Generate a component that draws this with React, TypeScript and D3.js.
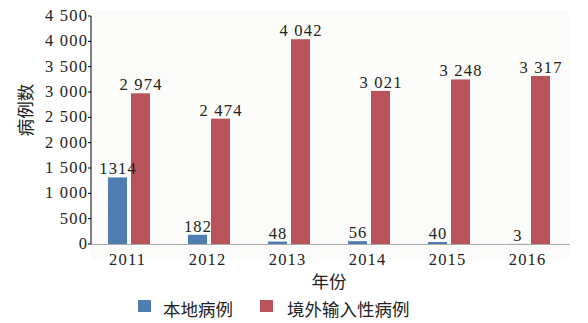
import React from "react";
import * as d3 from "d3";

const years = ["2011", "2012", "2013", "2014", "2015", "2016"];
const localCases = [1314, 182, 48, 56, 40, 3];
const importedCases = [2974, 2474, 4042, 3021, 3248, 3317];
const localLabels = ["1314", "182", "48", "56", "40", "3"];
const importedLabels = ["2 974", "2 474", "4 042", "3 021", "3 248", "3 317"];
const yTicks = [0, 500, 1000, 1500, 2000, 2500, 3000, 3500, 4000, 4500];
const yTickLabels = ["0", "500", "1 000", "1 500", "2 000", "2 500", "3 000", "3 500", "4 000", "4 500"];
const seriesNames = ["本地病例", "境外输入性病例"];
const colors = ["#4f7db1", "#b8535b"];

const W = 588;
const H = 323;
const serif = "'Liberation Serif', 'DejaVu Serif', serif";
const cjk = "'Noto Sans CJK SC', sans-serif";
const LS = 1.2;

export default function App() {
  const x = d3.scaleBand<string>().domain(years).range([89, 569]).padding(0);
  const y = d3.scaleLinear().domain([0, 4500]).range([244, 16]);
  const barW = 19;
  const gap = 2;

  const num = { fontFamily: serif, fontSize: 16.5, fill: "#222", letterSpacing: LS } as const;

  return (
    <svg width={W} height={H} style={{ position: "absolute", left: 0, top: 0, background: "#fff" }}>
      <rect x={91} y={10} width={478} height={250} fill="#fbfbf9" />
      {/* y axis */}
      <line x1={91} x2={91} y1={y(4500)} y2={y(0)} stroke="#000" strokeWidth={1} />
      {yTicks.map((t, i) => (
        <g key={t}>
          <line x1={88} x2={91} y1={y(t)} y2={y(t)} stroke="#000" />
          <text x={87 + LS} y={y(t) + 5} textAnchor="end" {...num}>
            {yTickLabels[i]}
          </text>
        </g>
      ))}
      {/* x axis */}
      <line x1={91} x2={570} y1={y(0) + 0.5} y2={y(0) + 0.5} stroke="#aaa" strokeWidth={1} />
      {years.map((yr, i) => {
        const c = (x(yr) as number) + x.bandwidth() / 2;
        return (
          <g key={yr}>
            <rect x={c - gap - barW} y={y(localCases[i])} width={barW} height={y(0) - y(localCases[i])} fill={colors[0]} />
            <rect x={c + gap} y={y(importedCases[i])} width={barW} height={y(0) - y(importedCases[i])} fill={colors[1]} />
            <text x={c - gap - barW / 2 + LS / 2} y={y(localCases[i]) - 3} textAnchor="middle" {...num}>
              {localLabels[i]}
            </text>
            <text x={c + gap + barW / 2 + LS / 2} y={y(importedCases[i]) - 3} textAnchor="middle" {...num}>
              {importedLabels[i]}
            </text>
            <text x={c - 2 + LS / 2} y={265} textAnchor="middle" {...num}>
              {yr}
            </text>
          </g>
        );
      })}
      {/* axis titles */}
      <text x={329} y={288} textAnchor="middle" fontFamily={cjk} fontSize={17.5} fill="#222">年份</text>
      <text transform="translate(32,110) rotate(-90)" textAnchor="middle" fontFamily={cjk} fontSize={17.5} fill="#222">病例数</text>
      {/* legend */}
      <rect x={138} y={300} width={13} height={12} fill={colors[0]} />
      <text x={163} y={316} fontFamily={cjk} fontSize={17.5} fill="#222">{seriesNames[0]}</text>
      <rect x={260} y={300} width={13} height={12} fill={colors[1]} />
      <text x={287} y={316} fontFamily={cjk} fontSize={17.5} fill="#222">{seriesNames[1]}</text>
    </svg>
  );
}
